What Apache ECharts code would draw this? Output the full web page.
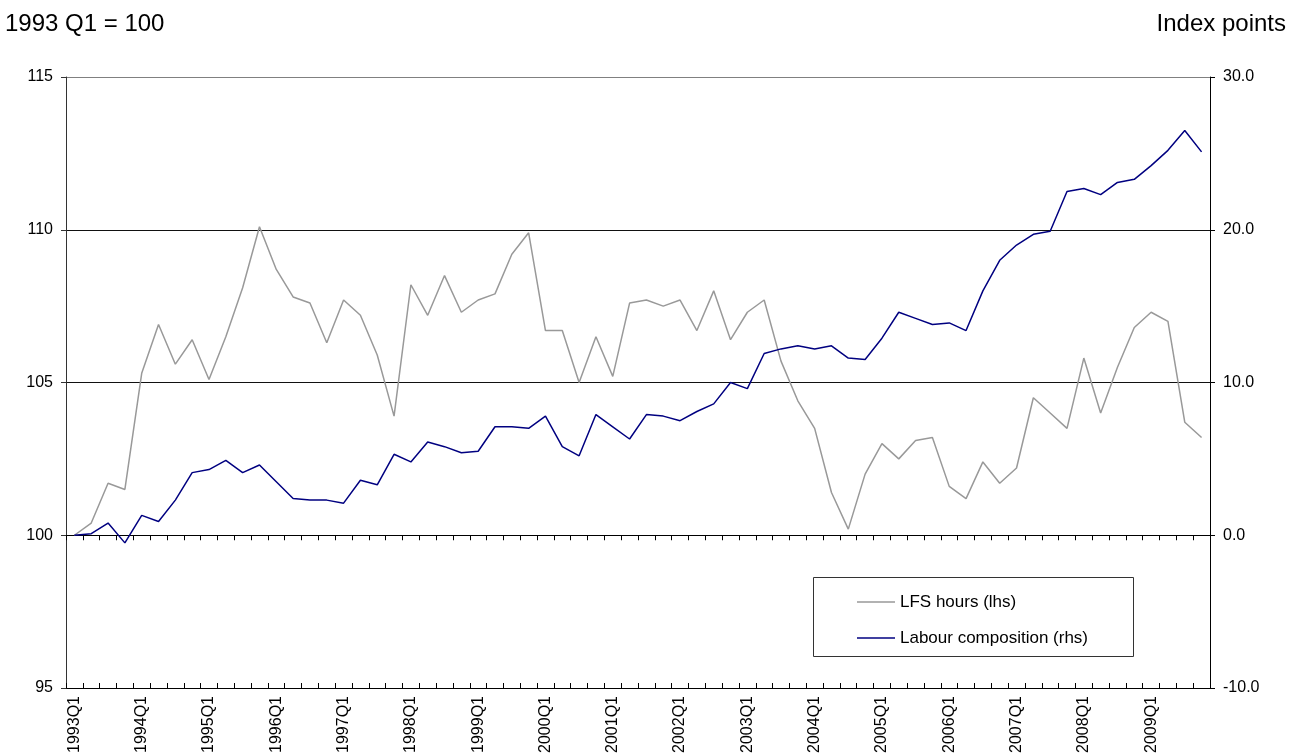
<!DOCTYPE html>
<html>
<head>
    <meta charset="utf-8">
    <title>LFS hours and labour composition</title>
    <script src="https://cdn.jsdelivr.net/npm/echarts@6/dist/echarts.min.js"></script>
    <style>
        html, body { margin: 0; padding: 0; background: #fff; }
    </style>
</head>
<body>
<div id="main" style="width: 1301px;height:756px;"></div>
<script>

// quarters 1993Q1 .. 2009Q4
var years = [1993, 1994, 1995, 1996, 1997, 1998, 1999, 2000, 2001,
             2002, 2003, 2004, 2005, 2006, 2007, 2008, 2009];
var quarters = [];
years.forEach(function (y) {
    for (var q = 1; q <= 4; q++) quarters.push(y + 'Q' + q);
});

// LFS hours, 1993 Q1 = 100 (lhs)
var lfsHours = [
    100.0, 100.4, 101.7, 101.5, 105.3, 106.9, 105.6, 106.4,
    105.1, 106.5, 108.1, 110.1, 108.7, 107.8, 107.6, 106.3,
    107.7, 107.2, 105.9, 103.9, 108.2, 107.2, 108.5, 107.3,
    107.7, 107.9, 109.2, 109.9, 106.7, 106.7, 105.0, 106.5,
    105.2, 107.6, 107.7, 107.5, 107.7, 106.7, 108.0, 106.4,
    107.3, 107.7, 105.7, 104.4, 103.5, 101.4, 100.2, 102.0,
    103.0, 102.5, 103.1, 103.2, 101.6, 101.2, 102.4, 101.7,
    102.2, 104.5, 104.0, 103.5, 105.8, 104.0, 105.5, 106.8,
    107.3, 107.0, 103.7, 103.2
];

// Labour composition, index points (rhs)
var labourComp = [
    0.0, 0.1, 0.8, -0.5, 1.3, 0.9, 2.3, 4.1,
    4.3, 4.9, 4.1, 4.6, 3.5, 2.4, 2.3, 2.3,
    2.1, 3.6, 3.3, 5.3, 4.8, 6.1, 5.8, 5.4,
    5.5, 7.1, 7.1, 7.0, 7.8, 5.8, 5.2, 7.9,
    7.1, 6.3, 7.9, 7.8, 7.5, 8.1, 8.6, 10.0,
    9.6, 11.9, 12.2, 12.4, 12.2, 12.4, 11.6, 11.5,
    12.9, 14.6, 14.2, 13.8, 13.9, 13.4, 16.0, 18.0,
    19.0, 19.7, 19.9, 22.5, 22.7, 22.3, 23.1, 23.3,
    24.2, 25.2, 26.5, 25.1
];

var FONT = 'Liberation Sans, Arial, sans-serif';

option = {
    animation: false,
    backgroundColor: '#fff',
    title: [
        {text: '1993 Q1 = 100', left: 5, top: 12, padding: 0,
         textStyle: {fontSize: 24, fontWeight: 'normal', color: '#000', fontFamily: FONT}},
        {text: 'Index points', right: 15, top: 12, padding: 0,
         textStyle: {fontSize: 24, fontWeight: 'normal', color: '#000', fontFamily: FONT}}
    ],
    grid: {left: 66, right: 91, top: 77, bottom: 68, containLabel: false},
    legend: {
        orient: 'vertical',
        left: 857,
        top: 593,
        padding: 0,
        icon: 'rect',
        itemWidth: 38,
        itemHeight: 1.5,
        itemGap: 18,
        textStyle: {fontSize: 17, color: '#000', fontFamily: FONT, lineHeight: 18},
        data: ['LFS hours (lhs)', 'Labour composition (rhs)']
    },
    graphic: [{
        type: 'rect',
        z: 3,
        shape: {x: 813.5, y: 577.5, width: 320, height: 79},
        style: {fill: '#fff', stroke: '#333', lineWidth: 1}
    }],
    xAxis: [
        {
            type: 'category',
            data: quarters,
            boundaryGap: true,
            axisLine: {lineStyle: {color: '#000', width: 1}},
            axisTick: {show: true, interval: 0, length: 5, lineStyle: {color: '#000'}},
            axisLabel: {interval: 3, rotate: 90, margin: 8, fontSize: 16, color: '#000', fontFamily: FONT},
            splitLine: {show: false}
        },
        {
            // inner half of the crossing tick marks
            type: 'category',
            data: quarters,
            position: 'bottom',
            offset: 0,
            boundaryGap: true,
            axisLine: {show: false},
            axisTick: {show: true, inside: true, interval: 0, length: 5, lineStyle: {color: '#000'}},
            axisLabel: {show: false},
            splitLine: {show: false}
        }
    ],
    yAxis: [
        {
            type: 'value',
            min: 95,
            max: 115,
            interval: 5,
            axisLine: {show: true, lineStyle: {color: '#333'}},
            axisTick: {show: true, length: 5, lineStyle: {color: '#333'}},
            axisLabel: {fontSize: 16, color: '#000', margin: 13, fontFamily: FONT},
            splitLine: {show: true, lineStyle: {color: ['#000', '#808080', '#111', '#111', '#808080'], width: 1}}
        },
        {
            type: 'value',
            min: -10,
            max: 30,
            interval: 10,
            position: 'right',
            axisLine: {show: true, lineStyle: {color: '#000'}},
            axisTick: {show: true, length: 5, lineStyle: {color: '#000'}},
            axisLabel: {fontSize: 16, color: '#000', margin: 13, fontFamily: FONT,
                        formatter: function (v) { return v.toFixed(1); }},
            splitLine: {show: false}
        }
    ],
    series: [
        {
            name: 'LFS hours (lhs)',
            type: 'line',
            yAxisIndex: 0,
            data: lfsHours,
            symbol: 'none',
            lineStyle: {color: '#999999', width: 1.5},
            itemStyle: {color: '#999999'}
        },
        {
            name: 'Labour composition (rhs)',
            type: 'line',
            yAxisIndex: 1,
            data: labourComp,
            symbol: 'none',
            lineStyle: {color: '#000080', width: 1.5},
            itemStyle: {color: '#000080'}
        }
    ]
};

var myChart = echarts.init(document.getElementById('main'));
myChart.setOption(option);

</script>
</body>
</html>
